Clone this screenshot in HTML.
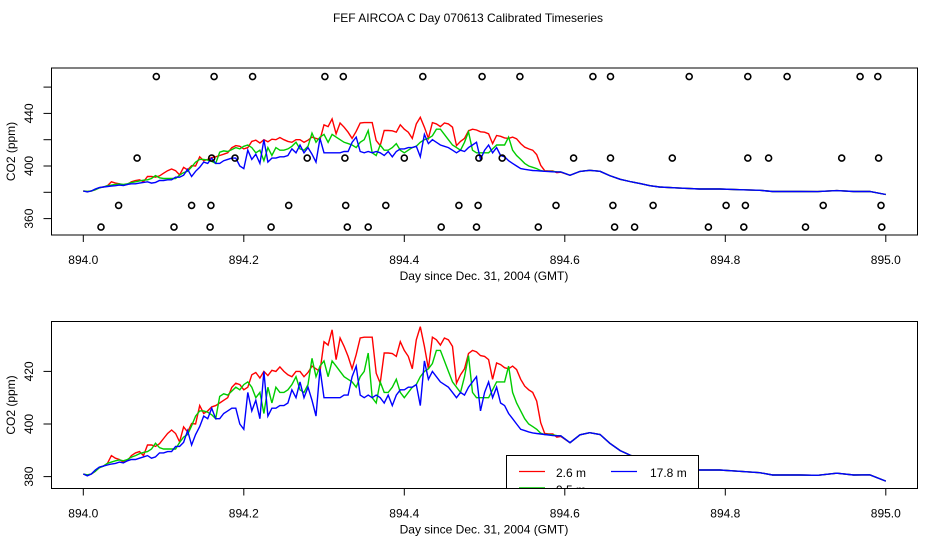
<!DOCTYPE html>
<html><head><meta charset="utf-8"><style>
html,body{margin:0;padding:0;background:#fff;}
svg{display:block;font-family:"Liberation Sans",sans-serif;}
</style></head><body>
<svg id="chart" width="936" height="540" viewBox="0 0 936 540" xmlns="http://www.w3.org/2000/svg">
<text x="468" y="22" text-anchor="middle" font-size="12">FEF AIRCOA C  Day 070613  Calibrated Timeseries</text>
<defs>
<clipPath id="clipTop"><rect x="51.5" y="68" width="866" height="167"/></clipPath>
<clipPath id="clipBot"><rect x="51.5" y="321.5" width="866" height="167"/></clipPath>
</defs>
<g id="top"></g>
<g id="bot"></g>
</svg>
<script>
const red = [381,380.5,381,382,383.5,384,385,388,387,386.5,385.5,386,388,389,389.5,388,392,392,391.5,392.5,394.5,396.4,397.7,396.4,393.2,398.9,397,400.2,400,407,404,405,406.5,407,408,409,410,413.9,415.5,415,413,414,418.7,419.6,417.5,420,418.4,420.4,420,421.7,420,418.7,418,420,420,418,419.6,422,421,420,431.3,430,435.8,424.5,432.7,429.5,425.7,421,426.4,432.7,433,433,433,419.3,415.5,427,427,426.8,425.7,431.3,428,425.7,421,432,437,429.5,421,433,432,430,432.7,432,429.5,415.5,418.7,421,426.8,428,427.4,426,425.7,424.5,417,423.2,422.6,421.4,421,422,420.7,417,414.4,413,412,408.7,400.5,396.4,396.2,396.2,395,395.3];
const green = [381,380.7,381,382,383.3,384,385,385.5,386,386.3,386,386.5,387.4,388,388.7,389.2,389.5,390.5,392.7,391,390.5,390.5,390.5,390.5,393,395,396,399.3,403,405,405,404.5,403.5,402,410.5,411.5,411,412.5,414,413,415,416,414,410,412,404,414,408,414,412,412,413,415,418,413,412,415,425,418,422,424,418,424,422,420,418,417,416,414,418,420,427,410,408,416,412,412,414,417,412,410,412,414,415,418,420,421,423,428,428,424,420,416,414,412,418,426,412,410,410,410,410,413,416,416,416,422,412,408,405,402,400,399,398,396.5,396,396,395.8,395.6,395.5];
const blue = [381,380.3,381,382.5,383.6,384,384.4,384.8,385,385.5,385.2,386,386.5,386.5,387,387.5,388,387,387.5,389,389,389.5,389.5,391.5,391.5,393,397.5,392,396,399,403,402,406,402,402,404,405,406,406,400,398,412,405,409,402,420,403,406,406,407,407,408,413,410,416,410,414,409,403,421,410,410,410,410,410,411,411,418,422,411,410,411,410,411,410,408,411,407,411,413,413,414,414,415,407,424,417,420,418,416,415,414,412,410,412,411,414,416,418,405,412,416,410,414,408,407,404,402,400,398,397.5,397,396.6,396.4,396.2,396,395.8,395.6,395.5,395.5];
const tailDays = [894.6065,894.619,894.631,894.644,894.656,894.669,894.681,894.694,894.706,894.718,894.743,894.768,894.793,894.818,894.843,894.859,894.893,894.915,894.939,894.96,894.98,895.00];
const tailVals = [392.9,395.9,396.7,396,392.7,389.9,388.2,386.6,385,384,383.2,382.5,382.5,382,381.5,380.6,380.6,380.5,381.3,380.6,380.7,378.3];
const startDay = 894.0, stepDay = 0.005;
const xTicks = [894.0,894.2,894.4,894.6,894.8,895.0];
const xTickLabels = ["894.0","894.2","894.4","894.6","894.8","895.0"];
const topYTicks = [360,380,400,420,440,460];
const topYLabels = ["360","","400","","440",""];
const botYTicks = [380,400,420];
const botYLabels = ["380","400","420"];
const flagRow1Days = [0.091,0.163,0.211,0.301,0.324,0.423,0.497,0.544,0.635,0.657,0.755,0.828,0.877,0.968,0.990];
const flagRow2Days = [0.067,0.160,0.189,0.279,0.326,0.400,0.493,0.522,0.611,0.657,0.734,0.828,0.854,0.945,0.991];
const flagRow3Days = [0.044,0.135,0.159,0.256,0.327,0.377,0.468,0.492,0.589,0.660,0.710,0.801,0.825,0.922,0.994];
const flagRow4Days = [0.022,0.113,0.158,0.234,0.329,0.355,0.446,0.490,0.567,0.662,0.687,0.779,0.823,0.900,0.995];
const flagRowVals = [468,406,370,353.5];

const NS = "http://www.w3.org/2000/svg";
function mk(tag, attrs, parent){const e=document.createElementNS(NS,tag);for(const k in attrs)e.setAttribute(k,attrs[k]);parent.appendChild(e);return e;}
const xScale = d => 83.3 + (d - 894.0) * 802.5;
function seriesPts(vals){
  const pts = vals.map((v,i)=>[startDay+i*stepDay, v]);
  tailDays.forEach((d,i)=>pts.push([d, tailVals[i]]));
  return pts;
}
function panel(g, box, yScale, yTicks, yLabels, clipId, withFlags, withLegend){
  const sg = mk('g',{'clip-path':'url(#'+clipId+')'},g);
  
  
  const ser = [[red,'#ff0000','series-2-6m'],[green,'#00cc00','series-9-5m'],[blue,'#0000ff','series-17-8m']];
  ser.forEach(([vals,col,name])=>{
    const d = seriesPts(vals).map((p,i)=>(i?'L':'M')+xScale(p[0]).toFixed(1)+','+yScale(p[1]).toFixed(1)).join('');
    const p = mk('path',{d:d,fill:'none',stroke:col,'stroke-width':1.4},sg);
    
    
  });
  if(withFlags){
    [flagRow1Days,flagRow2Days,flagRow3Days,flagRow4Days].forEach((row,ri)=>{
      row.forEach(dd=>{
        const c = mk('circle',{cx:xScale(894+dd).toFixed(1),cy:yScale(flagRowVals[ri]).toFixed(1),r:3,fill:'none',stroke:'#000','stroke-width':1.6},sg);
        
        
      });
    });
  }
  if(withLegend){
    const lg = mk('g',{},sg);
    
    
    mk('rect',{x:506.5,y:455.5,width:192,height:40,fill:'#fff',stroke:'#000','stroke-width':1},lg);
    mk('line',{x1:519,y1:471.5,x2:545,y2:471.5,stroke:'#ff0000','stroke-width':1.2},lg);
    const t1=mk('text',{x:556,y:477,'font-size':12},lg); t1.textContent='2.6 m';
    
    
    mk('line',{x1:611,y1:471.5,x2:637,y2:471.5,stroke:'#0000ff','stroke-width':1.2},lg);
    const t2=mk('text',{x:650,y:477,'font-size':12},lg); t2.textContent='17.8 m';
    
    
    mk('line',{x1:519,y1:488,x2:545,y2:488,stroke:'#00cc00','stroke-width':1.4},lg);
    const t3=mk('text',{x:556,y:494,'font-size':12},lg); t3.textContent='9.5 m';
    
    
  }
  const b = mk('rect',{x:box.x,y:box.y,width:box.w,height:box.h,fill:'none',stroke:'#000','stroke-width':1},g);
  
  
  const bottom = box.y+box.h;
  xTicks.forEach((t,i)=>{
    const x = xScale(t);
    mk('line',{x1:x,y1:bottom,x2:x,y2:bottom+7,stroke:'#000'},g);
    const tx = mk('text',{x:x,y:bottom+29,'text-anchor':'middle','font-size':12},g);
    tx.textContent = xTickLabels[i];
    
    
  });
  const xl = mk('text',{x:484,y:bottom+45,'text-anchor':'middle','font-size':12},g);
  xl.textContent = 'Day since Dec. 31, 2004 (GMT)';
  
  
  yTicks.forEach((t,i)=>{
    const y = yScale(t);
    mk('line',{x1:box.x,y1:y,x2:box.x-8,y2:y,stroke:'#000'},g);
    if(yLabels[i]){
      const ty = mk('text',{x:0,y:0,'text-anchor':'middle','font-size':12,transform:'translate(33,'+y+') rotate(-90)'},g);
      ty.textContent = yLabels[i];
      
      
    }
  });
  const yl = mk('text',{x:0,y:0,'text-anchor':'middle','font-size':12,transform:'translate(15,'+(box.y+box.h/2)+') rotate(-90)'},g);
  yl.textContent = 'CO2 (ppm)';
  
  
}
panel(document.getElementById('top'),{x:51.5,y:68,w:866,h:167},v=>166-(v-400)*1.315,topYTicks,topYLabels,'clipTop',true,false);
panel(document.getElementById('bot'),{x:51.5,y:321.5,w:866,h:167},v=>424-(v-400)*2.63,botYTicks,botYLabels,'clipBot',false,true);
</script>
</body></html>
